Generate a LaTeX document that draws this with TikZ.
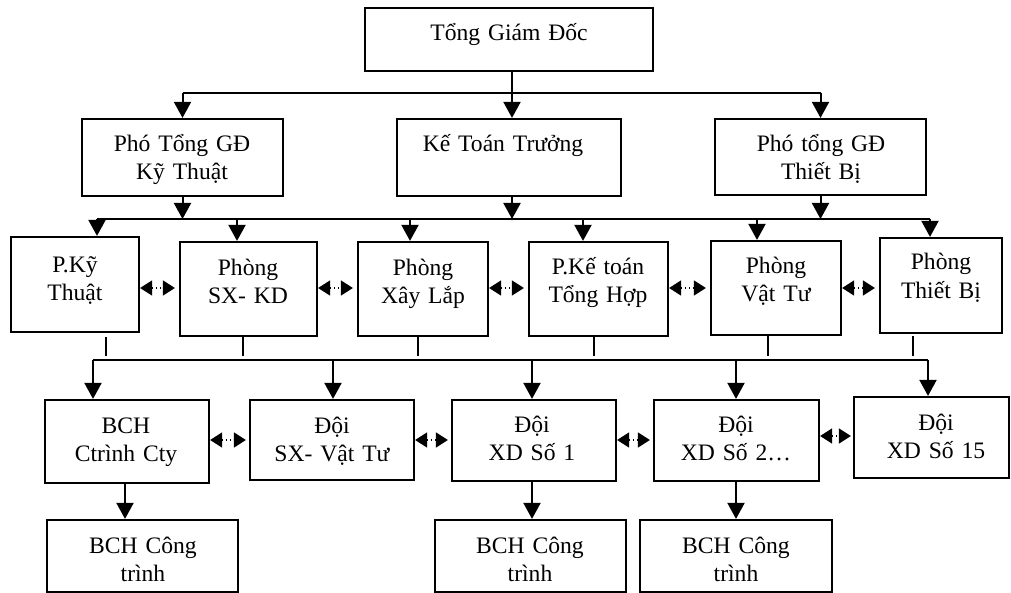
\documentclass[tikz,border=0pt]{standalone}
\usepackage{fontspec}
\setmainfont{Liberation Serif}
\usetikzlibrary{arrows.meta,fit}
\tikzset{
  box/.style={draw,line width=1.1pt,inner sep=0pt},
  txt/.style={inner sep=0pt,text width=100pt,align=center,anchor=base,
    font=\fontsize{11.8}{14}\selectfont},
  conn/.style={line width=1pt},
  arr/.style={conn,-{Triangle[length=8pt,width=8.5pt]}},
  dbl/.style={line width=0.7pt,dash pattern=on 0.7pt off 1.3pt,
    {Triangle[length=6pt,width=7.5pt]}-{Triangle[length=6pt,width=7.5pt]}},
}
% \orgbox{name}{x1}{y1}{x2}{y2}{text x}{first baseline}{text}
\newcommand\orgbox[8]{%
  \node[box,fit={(#2,#3)(#4,#5)}] (#1) {};
  \node[txt] (#1-t) at (#6,#7) {#8};}

\begin{document}
\begin{tikzpicture}[x=0.5pt,y=-0.5pt]
\useasboundingbox (0,0) rectangle (1011,593);

% management
\orgbox{tgd}{365}{8}{653}{71}{509}{41}{Tổng Giám Đốc}
\orgbox{pgdkt}{82}{119}{283}{196}{182}{152}{Phó Tổng GĐ\\Kỹ Thuật}
\orgbox{ktt}{397}{119}{621}{196}{503}{152}{Kế Toán Trưởng}
\orgbox{pgdtb}{715}{119}{926}{195}{821}{152}{Phó tổng GĐ\\Thiết Bị}

% departments
\orgbox{pkt}{11}{237}{139}{332}{75}{272}{P.Kỹ\\Thuật}
\orgbox{psx}{180}{242}{317}{336}{248}{275}{Phòng\\SX- KD}
\orgbox{pxl}{358}{242}{488}{336}{423}{275}{Phòng\\Xây Lắp}
\orgbox{pkth}{529}{242}{668}{336}{598}{274}{P.Kế toán\\Tổng Hợp}
\orgbox{pvt}{711}{241}{841}{335}{776}{273}{Phòng\\Vật Tư}
\orgbox{ptb}{880}{238}{1002}{333}{941}{270}{Phòng\\Thiết Bị}

% teams
\orgbox{bch}{45}{400}{209}{483}{126}{433}{BCH\\Ctrình Cty}
\orgbox{dsx}{250}{400}{414}{480}{332}{433}{Đội\\SX- Vật Tư}
\orgbox{dxd1}{452}{400}{616}{481}{532}{432}{Đội\\XD Số 1}
\orgbox{dxd2}{654}{400}{819}{481}{736}{432}{Đội\\XD Số 2…}
\orgbox{dxd15}{854}{397}{1009}{478}{936}{430}{Đội\\XD Số 15}

% site boards
\orgbox{ct1}{47}{520}{238}{592}{143}{553}{BCH Công\\trình}
\orgbox{ct2}{435}{520}{626}{592}{530}{553}{BCH Công\\trình}
\orgbox{ct3}{640}{520}{832}{592}{736}{553}{BCH Công\\trình}

% level 1 bus
\coordinate (j1) at (512,93);
\draw[conn] (j1 -| pgdkt.north) -- (j1 -| pgdtb.north);
\draw[arr] (tgd.south -| j1) -- (ktt.north -| j1);
\draw[arr] (j1 -| pgdkt.north) -- (pgdkt.north);
\draw[arr] (j1 -| pgdtb.north) -- (pgdtb.north);

% level 2 bus
\coordinate (j2) at (0,219);
\coordinate (a1) at (97,219);
\coordinate (a2) at (237,219);
\coordinate (a3) at (410,219);
\coordinate (a4) at (583,219);
\coordinate (a5) at (757,219);
\coordinate (a6) at (930,219);
\draw[arr] (pgdkt.south) -- (pgdkt.south |- j2);
\draw[arr] (ktt.south -| j1) -- (j1 |- j2);
\draw[arr] (pgdtb.south) -- (pgdtb.south |- j2);
\draw[conn] (a1) -- (a6);
\draw[arr] (a1) -- (a1 |- pkt.north);
\draw[arr] (a2) -- (a2 |- psx.north);
\draw[arr] (a3) -- (a3 |- pxl.north);
\draw[arr] (a4) -- (a4 |- pkth.north);
\draw[arr] (a5) -- (a5 |- pvt.north);
\draw[arr] (a6) -- (a6 |- ptb.north);

% links between departments
\coordinate (r2) at (0,288);
\foreach \a/\b in {pkt/psx,psx/pxl,pxl/pkth,pkth/pvt,pvt/ptb}
  \draw[dbl,shorten >=2pt] (\a.east |- r2) -- (\b.west |- r2);

% level 3 bus
\coordinate (j3) at (0,360);
\draw[conn,shorten <=2pt,shorten >=2pt] (pkt.south -| 106,0) -- (106,0 |- j3);
\draw[conn,shorten >=2pt] (psx.south -| 243,0) -- (243,0 |- j3);
\draw[conn,shorten >=2pt] (pxl.south -| 418,0) -- (418,0 |- j3);
\draw[conn,shorten >=2pt] (pkth.south -| 594,0) -- (594,0 |- j3);
\draw[conn,shorten >=2pt] (pvt.south -| 768,0) -- (768,0 |- j3);
\draw[conn,shorten <=1pt,shorten >=2pt] (ptb.south -| 913,0) -- (913,0 |- j3);
\coordinate (c1) at (93,360);
\coordinate (c2) at (333,360);
\coordinate (c3) at (532,360);
\coordinate (c4) at (736,360);
\coordinate (c5) at (928,360);
\draw[conn] (c1) -- (c5);
\draw[arr] (c1) -- (c1 |- bch.north);
\draw[arr] (c2) -- (c2 |- dsx.north);
\draw[arr] (c3) -- (c3 |- dxd1.north);
\draw[arr] (c4) -- (c4 |- dxd2.north);
\draw[arr] (c5) -- (c5 |- dxd15.north);

% links between teams
\coordinate (r3) at (0,440);
\coordinate (r3b) at (0,436);
\foreach \a/\b in {bch/dsx,dsx/dxd1,dxd1/dxd2}
  \draw[dbl,shorten >=1.5pt] (\a.east |- r3) -- (\b.west |- r3);
\draw[dbl,shorten >=1pt] (dxd2.east |- r3b) -- (dxd15.west |- r3b);

% site boards
\coordinate (e1) at (125,483);
\draw[arr] (bch.south -| e1) -- (ct1.north -| e1);
\draw[arr] (dxd1.south -| c3) -- (ct2.north -| c3);
\draw[arr] (dxd2.south -| c4) -- (ct3.north -| c4);
\end{tikzpicture}
\end{document}
